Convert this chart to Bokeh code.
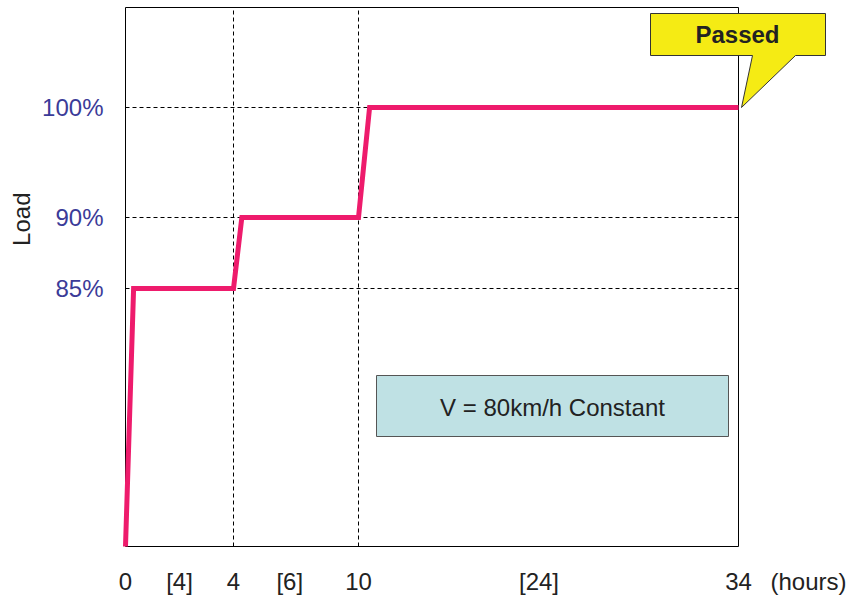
import numpy as np
from bokeh.plotting import figure
from bokeh.models import Range1d, FixedTicker, Title
from bokeh.embed import file_html
from bokeh.resources import INLINE
from bokeh.core.properties import value

# ---- data ----
hours = [0, 0.3, 4, 4.4, 10, 10.7, 34]
load = [0, 85, 85, 90, 90, 100, 100]
x_tick_hours = [0, 2, 4, 6.7, 10, 21.4, 34]
x_tick_labels = ["0", "[4]", "4", "[6]", "10", "[24]", "34"]
x_grid_hours = [4, 10]
y_tick_loads = [85, 90, 100]
y_tick_labels = ["85%", "90%", "100%"]
x_unit_label = "(hours)"
y_axis_title = "Load"
speed_note = "V = 80km/h Constant"
status = "Passed"

# ---- broken (piecewise) axis scales: value -> display units ----
X_BREAK_H = [0, 4, 10, 34]
X_BREAK_U = [0, 108, 233, 613]
Y_BREAK_L = [0, 85, 90, 100]
Y_BREAK_U = [0, 258, 329, 439]
BOX_TOP = 539          # top of the plotting box in display units
UNIT_LABEL_POS = 683   # where "(hours)" sits on the x axis


def fx(h):
    return np.interp(h, X_BREAK_H, X_BREAK_U)


def fy(v):
    return np.interp(v, Y_BREAK_L, Y_BREAK_U)


FONT = "Liberation Sans"
DARK = "#222222"

p = figure(frame_width=737, frame_height=559, output_backend="svg", toolbar_location=None,
           x_range=Range1d(-15, 722), y_range=Range1d(-13, 546),
           min_border_left=109, min_border_right=0, min_border_top=0,
           min_border_bottom=37)
p.outline_line_color = None
p.background_fill_color = "white"
p.border_fill_color = "white"
p.xgrid.visible = False
p.ygrid.visible = False

# axes (labels only)
xt = [float(v) for v in fx(x_tick_hours)] + [float(UNIT_LABEL_POS)]
p.xaxis.ticker = FixedTicker(ticks=xt)
p.xaxis.major_label_overrides = {t: l for t, l in zip(xt, x_tick_labels + [x_unit_label])}
yt = [float(v) for v in fy(y_tick_loads)]
p.yaxis.ticker = FixedTicker(ticks=yt)
p.yaxis.major_label_overrides = {t: l for t, l in zip(yt, y_tick_labels)}
for ax in (p.xaxis, p.yaxis):
    ax.axis_line_color = None
    ax.major_tick_line_color = None
    ax.minor_tick_line_color = None
    ax.major_tick_out = 0
    ax.major_tick_in = 0
    ax.major_label_text_font = FONT
    ax.major_label_text_font_size = "24px"
p.xaxis.major_label_text_color = DARK
p.xaxis.major_label_standoff = 8
p.yaxis.major_label_text_color = "#3B3B98"
p.yaxis.major_label_standoff = 7

p.add_layout(Title(text=y_axis_title, text_font=FONT, text_font_size="24px",
                   text_font_style="normal", text_color=DARK, align="right",
                   offset=192), "left")

# dashed grid lines inside the box
gx = fx(x_grid_hours)
p.segment(x0=gx, y0=[0] * len(gx), x1=gx, y1=[BOX_TOP] * len(gx),
          line_color="black", line_dash="4 3", line_width=1)
gy = fy(y_tick_loads)
p.segment(x0=[0] * len(gy), y0=gy, x1=[X_BREAK_U[-1]] * len(gy), y1=gy,
          line_color="black", line_dash="4 3", line_width=1)

# plotting box
p.quad(left=0, right=X_BREAK_U[-1], bottom=0, top=BOX_TOP, fill_color=None,
       line_color="black", line_width=1)

# note box
p.quad(left=251, right=603, bottom=110, top=171, fill_color="#BFE1E4",
       line_color="#555555", line_width=1)
p.text(x=[427], y=[139], text=[speed_note], text_align="center", text_baseline="middle",
       text_font=value(FONT), text_font_size="24px", text_color=DARK)

# load line
p.line(fx(hours), fy(load), line_color="#EE1B6C", line_width=5, line_join="miter")

# callout
p.patch(x=[525, 700, 700, 670, 616, 627, 525],
        y=[533, 533, 491, 491, 439, 491, 491],
        fill_color="#F5EB14", line_color="#333333", line_width=1)
p.text(x=[612], y=[512], text=[status], text_align="center", text_baseline="middle",
       text_font=value(FONT), text_font_size="24px", text_font_style="bold",
       text_color=DARK)

open("out.html", "w").write(file_html(p, INLINE))
